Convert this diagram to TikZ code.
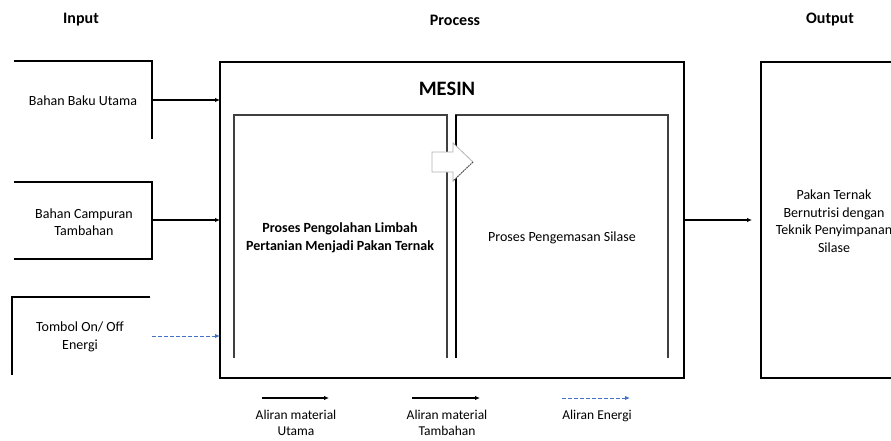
\documentclass[tikz,border=0pt]{standalone}
\usepackage{fontspec}
\setmainfont{Carlito}
\usetikzlibrary{arrows.meta}
\definecolor{energy}{HTML}{4472C4}
\begin{document}
\begin{tikzpicture}[x=1pt,y=-1pt,
  lbl/.style={font=\fontsize{14}{17.5}\selectfont, align=center, inner sep=0pt},
  leg/.style={font=\fontsize{13.5}{15.5}\selectfont, align=center, inner sep=0pt},
  blbl/.style={font=\fontsize{14}{17.5}\selectfont\bfseries, align=center, inner sep=0pt},
  ttl/.style={font=\fontsize{16}{19}\selectfont\bfseries, inner sep=0pt},
  frame/.style={line width=1.3pt},
  thinframe/.style={line width=1.1pt, black!75},
  flow/.style={line width=1.2pt, -{Latex[length=5pt,width=4.5pt]}},
  eflow/.style={line width=1pt, energy, dash pattern=on 3.5pt off 2.5pt, -{Latex[length=5pt,width=4.5pt]}},
]
\useasboundingbox (0,0) rectangle (891,441);

% titles
\node[ttl] (tin) at (81,20) {Input};
\node[ttl] (tproc) at (455,20) {Process};
\node[ttl] (tout) at (830,20) {Output};

% input box 1
\draw[frame] (14,61) -- (152,61) -- (152,139);
\node[lbl] (in1) at (83,101) {Bahan Baku Utama};
\coordinate (in1r) at (152,100);

% input box 2
\draw[frame] (14,182) -- (152,182) -- (152,259) -- (14,259);
\node[lbl] (in2) at (84,222) {Bahan Campuran\\Tambahan};
\coordinate (in2r) at (152,220);

% input box 3
\draw[frame] (150,297) -- (12,297) -- (12,375);
\node[lbl] (in3) at (80,337) {Tombol On/ Off\\Energi};
\coordinate (in3r) at (152,336);

% machine box
\draw[frame, line width=1.5pt] (220,62) rectangle (684,378);
\node[ttl, font=\fontsize{20.5}{24}\selectfont\bfseries] (mesin) at (447,89) {MESIN};
\coordinate (m1) at (220,100);
\coordinate (m2) at (220,220);
\coordinate (m3) at (220,336);
\coordinate (mout) at (684,220);

% inner boxes
\draw[thinframe] (234,358) -- (234,115) -- (447,115) -- (447,358);
\draw[thinframe] (456,358) -- (456,115) -- (668,115) -- (668,358);
\draw[line width=1.1pt] (456,115) -- (456,358);
\node[blbl] (p1) at (340,238) {Proses Pengolahan Limbah\\Pertanian Menjadi Pakan Ternak};
\node[lbl] (p2) at (562,238) {Proses Pengemasan Silase};

% block arrow
\draw[fill=white, draw=black!30, line width=0.8pt] (432,152) -- (453,152) -- (453,143) -- (473,162) -- (453,181) -- (453,172) -- (432,172) -- cycle;
\draw[black!70, line width=0.8pt, dash pattern=on 1.5pt off 1pt] (473,162) -- (453,181);

% output box
\draw[frame] (895,62) -- (761,62) -- (761,378) -- (895,378);
\node[lbl] (out) at (834,221) {Pakan Ternak\\Bernutrisi dengan\\Teknik Penyimpanan\\Silase};
\coordinate (outl) at (752,220);

% connectors
\draw[flow] (in1r) -- (m1);
\draw[flow] (in2r) -- (m2);
\draw[eflow] (in3r) -- (m3);
\draw[flow] (mout) -- (outl);

% legend
\coordinate (l1a) at (262,398); \coordinate (l1b) at (329,398);
\coordinate (l2a) at (412,398); \coordinate (l2b) at (480,398);
\coordinate (l3a) at (562,398); \coordinate (l3b) at (630,398);
\draw[flow] (l1a) -- (l1b);
\draw[flow] (l2a) -- (l2b);
\draw[eflow] (l3a) -- (l3b);
\node[leg] (lg1) at (296,423) {Aliran material\\Utama};
\node[leg] (lg2) at (447,423) {Aliran material\\Tambahan};
\node[leg] (lg3) at (597,416) {Aliran Energi};
\end{tikzpicture}
\end{document}
